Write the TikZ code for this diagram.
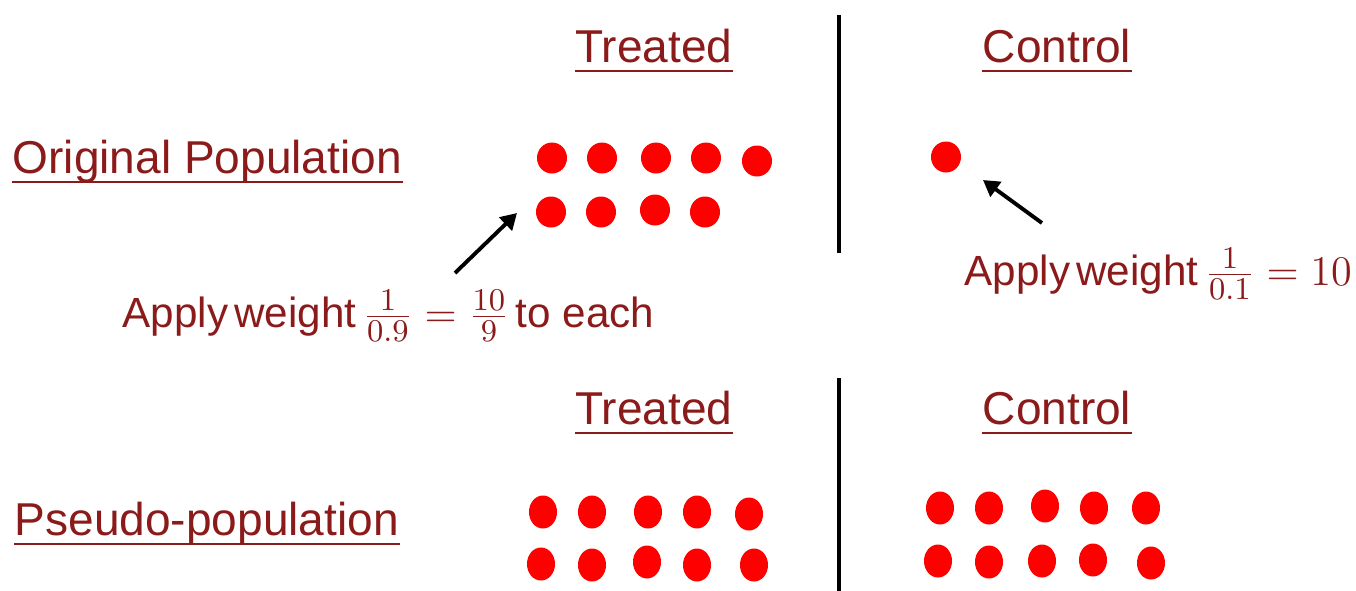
\documentclass[tikz,border=0pt]{standalone}
\usepackage{fontspec}
\setmainfont{Liberation Sans}
\usepackage{xcolor}
\usepackage{tikz}
\usetikzlibrary{arrows.meta,shapes.geometric}
\definecolor{maroon}{HTML}{8B1A1A}
\definecolor{dotred}{HTML}{FF0000}
\DeclareMathSizes{12}{12}{9.5}{7}
\newcommand{\gap}{\hspace{0.15em}}
\tikzset{
  head/.style={font=\fontsize{13.1}{15}\selectfont, text=maroon, inner sep=0pt, anchor=base},
  grp/.style={head, anchor=base west},
  note/.style={font=\fontsize{12}{14}\selectfont, text=maroon, inner sep=0pt, anchor=base west},
  uline/.style={line width=0.7pt, draw=maroon},
  dot/.style={ellipse, fill=dotred, inner sep=0pt, minimum width=0.3cm, minimum height=0.31cm},
  pdot/.style={ellipse, fill=dotred, inner sep=0pt, minimum width=0.28cm, minimum height=0.33cm},
  divider/.style={line width=1.15pt, draw=black},
  pt/.style={-{Triangle[length=1.6mm,width=1.8mm]}, line width=1.1pt, draw=black},
}

\begin{document}
\begin{tikzpicture}[x=0.01cm, y=-0.01cm]
  \useasboundingbox (0,0) rectangle (1356,590);
  % headings
  \node[head] (trt1) at (654,62) {Treated};
  \node[head] (ctl1) at (1057,62) {Control};
  \node[grp] (orig) at (12,173) {Original Population};
  \node[head] (trt2) at (654,424) {Treated};
  \node[head] (ctl2) at (1057,424) {Control};
  \node[grp] (pseudo) at (14,535) {Pseudo-population};
  \foreach \n in {trt1,ctl1,orig,trt2,ctl2,pseudo}
    \draw[uline] ([yshift=-2.6pt]\n.base west) -- ([yshift=-2.6pt]\n.base east);
  % weights
  \node[note] (wtrt) at (122,327) {Apply\gap weight\gap$\frac{1}{0.9}=\frac{10}{9}$\gap to each};
  \node[note] (wctl) at (964,285) {Apply\gap weight\gap$\frac{1}{0.1}=10$};
  % original population
  \node[dot] (t1) at (552,158) {}; \node[dot] (t2) at (602,158) {}; \node[dot] (t3) at (656,158) {};
  \node[dot] (t4) at (706,158) {}; \node[dot] (t5) at (757,161) {};
  \node[dot] (t6) at (551,212) {}; \node[dot] (t7) at (601,212) {}; \node[dot] (t8) at (655,210) {};
  \node[dot] (t9) at (705,212) {};
  \node[dot] (c1) at (946,157) {};
  % pseudo-population
  \node[pdot] (pt1) at (543,512) {}; \node[pdot] (pt2) at (592,512) {}; \node[pdot] (pt3) at (648,512) {};
  \node[pdot] (pt4) at (697,512) {}; \node[pdot] (pt5) at (749,514) {};
  \node[pdot] (pt6) at (541,564) {}; \node[pdot] (pt7) at (592,565) {}; \node[pdot] (pt8) at (647,562) {};
  \node[pdot] (pt9) at (697,565) {}; \node[pdot] (pt10) at (754,565) {};
  \node[pdot] (pc1) at (940,508) {}; \node[pdot] (pc2) at (989,508) {}; \node[pdot] (pc3) at (1045,506) {};
  \node[pdot] (pc4) at (1094,508) {}; \node[pdot] (pc5) at (1146,508) {};
  \node[pdot] (pc6) at (938,561) {}; \node[pdot] (pc7) at (989,562) {}; \node[pdot] (pc8) at (1042,561) {};
  \node[pdot] (pc9) at (1093,560) {}; \node[pdot] (pc10) at (1151,563) {};
  % dividers
  \draw[divider] (839,15) -- (839,253);
  \draw[divider] (839,378) -- (839,592);
  % arrows
  \coordinate (wtrtfrom) at (455,273); \coordinate (wtrtto) at (517,213);
  \coordinate (wctlfrom) at (1042,223); \coordinate (wctlto) at (983,180);
  \draw[pt] (wtrtfrom) -- (wtrtto); \draw[pt] (wctlfrom) -- (wctlto);
\end{tikzpicture}
\end{document}
